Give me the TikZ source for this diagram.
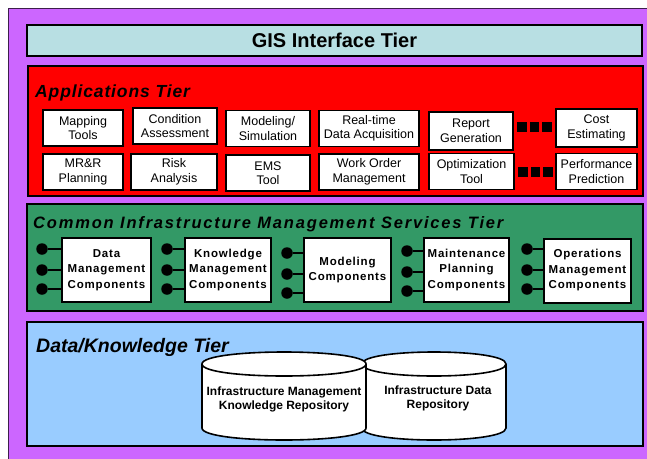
\documentclass[tikz,border=0pt]{standalone}
\usepackage{fontspec}
\setmainfont{Liberation Sans}
\newfontfamily\spcA[LetterSpace=5]{Liberation Sans}
\newfontfamily\spcB[LetterSpace=11]{Liberation Sans}
\newfontfamily\spcC[LetterSpace=7]{Liberation Sans}
\definecolor{purp}{HTML}{CC66FF}
\definecolor{gis}{HTML}{B8DFE3}
\definecolor{redt}{HTML}{FF0000}
\definecolor{greent}{HTML}{339966}
\definecolor{bluet}{HTML}{99CCFF}
\begin{document}
\begin{tikzpicture}[x=1pt,y=-1pt,
  tier/.style={draw=black,line width=1.6pt},
  app/.style={draw=black,line width=1.8pt,fill=white,align=center,inner sep=0pt,
    minimum height=36pt,font=\fontsize{12.5}{14.5}\selectfont},
  comp/.style={draw=black,line width=2pt,fill=white,align=center,inner sep=0pt,
    minimum height=64pt,font=\spcC\bfseries\fontsize{11.5}{15.5}\selectfont},
  sq/.style={fill=black,inner sep=0pt,minimum size=9.5pt},
  dot/.style={circle,fill=black,inner sep=0pt,minimum size=11.5pt},
  conn/.style={line width=1.6pt},
  title/.style={anchor=base west,inner sep=0pt},
  cyl/.style={draw=black,line width=1.6pt,fill=white},
  cyltext/.style={align=center,inner sep=0pt,font=\bfseries\fontsize{12}{14}\selectfont}
]
\useasboundingbox (0,0) rectangle (647,458);
% background
\fill[purp] (8.5,8.5) rectangle (660,470);
\draw[line width=1.2pt,draw=black!70!purp] (8.5,470) -- (8.5,8.5) -- (660,8.5);

% GIS tier
\node[draw=black,line width=2pt,fill=gis,minimum width=615pt,minimum height=31pt,inner sep=0pt,
  font=\bfseries\fontsize{20}{24}\selectfont] (gisT) at (334.5,40.5) {GIS Interface Tier};

% Applications tier
\draw[tier,fill=redt] (28,66) rectangle (643,196);
\node[title,font=\spcA\bfseries\itshape\fontsize{17.5}{20}\selectfont] (appT) at (35,97) {Applications Tier};

\node[app,minimum width=80pt] (a1) at (83,128) {Mapping\\Tools};
\node[app,minimum width=84pt] (a2) at (175,126) {Condition\\Assessment};
\node[app,minimum width=84pt] (a3) at (268,128.5) {Modeling/\\Simulation};
\node[app,minimum width=100pt] (a4) at (369,128.5) {Real-time\\Data Acquisition};
\node[app,minimum width=84pt,minimum height=38pt] (a5) at (471,131) {Report\\Generation};
\node[app,minimum width=81pt,minimum height=38pt] (a6) at (596.5,128) {Cost\\Estimating};

\node[app,minimum width=80pt] (b1) at (83,172) {MR\&R\\Planning};
\node[app,minimum width=86pt] (b2) at (174,172) {Risk\\Analysis};
\node[app,minimum width=84pt] (b3) at (268,173) {EMS\\Tool};
\node[app,minimum width=100pt] (b4) at (369,172) {Work Order\\Management};
\node[app,minimum width=85pt] (b5) at (471.5,171.5) {Optimization\\Tool};
\node[app,minimum width=81pt] (b6) at (596.5,171.5) {Performance\\Prediction};

\node[sq] (s1) at (522,127) {};
\node[sq] (s2) at (534.5,127) {};
\node[sq] (s3) at (547,127) {};
\node[sq] (s4) at (523,172) {};
\node[sq] (s5) at (535.5,172) {};
\node[sq] (s6) at (548,172) {};

% Common services tier
\draw[tier,fill=greent] (27,204) rectangle (643,311);
\node[title,font=\spcB\bfseries\itshape\fontsize{16.5}{20}\selectfont] (cimT) at (33,228) {Common Infrastructure Management Services Tier};

\node[comp,minimum width=89pt] (c1) at (106.5,270) {Data\\Management\\Components};
\node[comp,minimum width=86pt] (c2) at (228,270) {Knowledge\\Management\\Components};
\node[comp,minimum width=87pt] (c3) at (347.5,270) {Modeling\\Components};
\node[comp,minimum width=85pt] (c4) at (466.5,270) {Maintenance\\Planning\\Components};
\node[comp,minimum width=87pt] (c5) at (587.5,270.5) {Operations\\Management\\Components};

\foreach \b/\x/\d in {c1/42/0, c2/167/0, c3/287/4, c4/407/2, c5/527/0}{
  \node[dot] (\b d1) at (\x,249+\d) {};
  \node[dot] (\b d2) at (\x,270+\d) {};
  \node[dot] (\b d3) at (\x,289+\d) {};
  \draw[conn] (\b d1) -- (\b d1 -| \b.west);
  \draw[conn] (\b d2) -- (\b d2 -| \b.west);
  \draw[conn] (\b d3) -- (\b d3 -| \b.west);
}

% Data/Knowledge tier
\draw[tier,fill=bluet] (27,322) rectangle (643,446);
\node[title,font=\bfseries\itshape\fontsize{19.5}{22}\selectfont] (dkT) at (36,352) {Data/Knowledge Tier};

% right cylinder (behind)
\draw[cyl] (362,364) -- (362,428) .. controls (362,444) and (506,444) .. (506,428)
  -- (506,364) .. controls (506,348) and (362,348) .. (362,364) -- cycle;
\draw[line width=1.6pt] (362,364) .. controls (362,380) and (506,380) .. (506,364);
% left cylinder (front)
\draw[cyl] (202,364) -- (202,428) .. controls (202,444) and (366,444) .. (366,428)
  -- (366,364) .. controls (366,348) and (202,348) .. (202,364) -- cycle;
\draw[line width=1.6pt] (202,364) .. controls (202,380) and (366,380) .. (366,364);

\node[cyltext] (r1) at (284,399) {Infrastructure Management\\Knowledge Repository};
\node[cyltext] (r2) at (438,398) {Infrastructure Data\\Repository};
\end{tikzpicture}
\end{document}
